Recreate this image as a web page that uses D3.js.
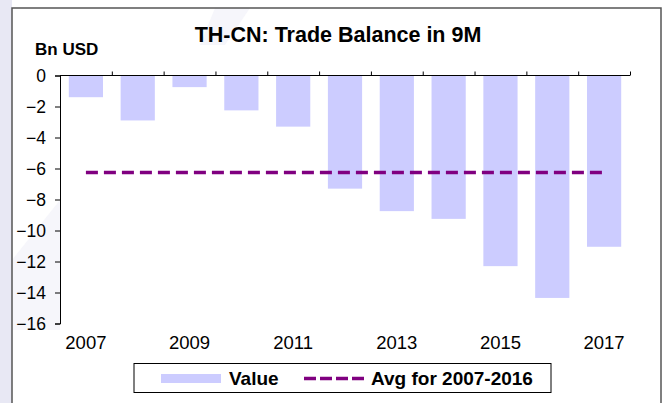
<!DOCTYPE html>
<html>
<head>
<meta charset="utf-8">
<script src="https://cdn.jsdelivr.net/npm/d3@7"></script>
<style>
  body { margin: 0; background: #fff; }
  text { font-family: "Liberation Sans", Arial, sans-serif; fill: #000; }
  .title { font-size: 21.5px; font-weight: bold; }
  .unit { font-size: 17px; font-weight: bold; }
  .tick text { font-size: 17.5px; }
  .legend text { font-size: 19px; font-weight: bold; }
</style>
</head>
<body>
<svg id="chart" width="665" height="403"></svg>
<script>
let years = ["2007", "2008", "2009", "2010", "2011", "2012", "2013", "2014", "2015", "2016", "2017"];
let values = [-1.4, -2.9, -0.75, -2.25, -3.3, -7.3, -8.75, -9.25, -12.3, -14.35, -11.05];
let avgYears = ["2007", "2016"];
let yTicks = [0, -2, -4, -6, -8, -10, -12, -14, -16];
let xLabels = ["2007", "2009", "2011", "2013", "2015", "2017"];

let svg = d3.select("#chart");
let width = +svg.attr("width");
let height = +svg.attr("height");

// background: lavender strip, faint watermark, frame
svg.append("rect").attr("x", 0).attr("y", 0).attr("width", 12).attr("height", height).attr("fill", "#e8e8f4");
svg.append("path").attr("d", "M12,330 L12,260 L60,200 L60,330 Z").attr("fill", "#f6f6fb");
svg.append("path").attr("d", "M215,8 L250,8 L225,45 L200,45 Z").attr("fill", "#f6f6fb");
svg.append("rect")
  .attr("x", 12).attr("y", 8)
  .attr("width", 649).attr("height", height + 10)
  .attr("fill", "none")
  .attr("stroke", "#555")
  .attr("stroke-width", 1.5);

let avg = d3.mean(values.filter((v, i) => +years[i] >= +avgYears[0] && +years[i] <= +avgYears[1]));

let x = d3.scaleBand().domain(years).range([60, 630]).paddingInner(0.34).paddingOuter(0.17);
let y = d3.scaleLinear().domain([0, -16]).range([75.5, 323.5]);

// bars
svg.append("g")
  .selectAll("rect")
  .data(values)
  .enter()
  .append("rect")
  .attr("x", function (d, i) { return x(years[i]); })
  .attr("y", y(0))
  .attr("width", x.bandwidth())
  .attr("height", function (d) { return y(d) - y(0); })
  .attr("fill", "#ccccff");

// avg line
svg.append("line")
  .attr("x1", x(years[0]) + x.bandwidth() / 2)
  .attr("x2", x(years[years.length - 1]) + x.bandwidth() / 2)
  .attr("y1", y(avg))
  .attr("y2", y(avg))
  .attr("stroke", "#800080")
  .attr("stroke-width", 3.5)
  .attr("stroke-dasharray", "12,6");

// y axis
let yAxis = svg.append("g")
  .attr("transform", "translate(60,0)")
  .call(d3.axisLeft(y).tickValues(yTicks).tickSize(5).tickPadding(9).tickFormat(d3.format("d")));
yAxis.select(".domain").attr("stroke", "#000");
yAxis.selectAll(".tick line").attr("stroke", "#000");
yAxis.selectAll(".tick text").attr("dy", "0.36em");

// x axis along zero, ticks at band boundaries pointing up
let xb = d3.scaleLinear().domain([0, years.length]).range([60, 630]);
let xAxis = svg.append("g")
  .attr("transform", "translate(0," + y(0) + ")")
  .call(d3.axisTop(xb).tickValues(d3.range(1, years.length + 1)).tickSize(4).tickFormat(""));
xAxis.select(".domain").attr("stroke", "#000").attr("d", "M60,0H630");
xAxis.selectAll(".tick line").attr("stroke", "#000");

// x labels
svg.append("g")
  .selectAll("text")
  .data(xLabels)
  .enter()
  .append("text")
  .attr("x", function (d) { return x(d) + x.bandwidth() / 2; })
  .attr("y", 349)
  .attr("text-anchor", "middle")
  .style("font-size", "18.5px")
  .text(function (d) { return d; });

// titles
svg.append("text").attr("class", "title").attr("x", 338).attr("y", 42).attr("text-anchor", "middle")
  .text("TH-CN: Trade Balance in 9M");
svg.append("text").attr("class", "unit").attr("x", 35).attr("y", 55).text("Bn USD");

// legend
let legend = svg.append("g").attr("class", "legend");
legend.append("rect")
  .attr("x", 134).attr("y", 363.5).attr("width", 417).attr("height", 29)
  .attr("fill", "#fff").attr("stroke", "#000").attr("stroke-width", 1);
legend.append("rect")
  .attr("x", 161).attr("y", 374).attr("width", 60).attr("height", 9)
  .attr("fill", "#ccccff");
legend.append("text").attr("x", 229).attr("y", 385).text("Value");
legend.append("line")
  .attr("x1", 304).attr("x2", 366).attr("y1", 378.5).attr("y2", 378.5)
  .attr("stroke", "#800080").attr("stroke-width", 3.5).attr("stroke-dasharray", "12,4");
legend.append("text").attr("x", 371).attr("y", 385).text("Avg for 2007-2016");
</script>
</body>
</html>
